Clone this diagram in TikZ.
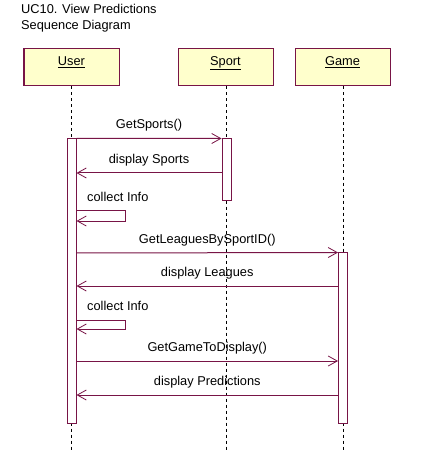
\documentclass[tikz,border=0pt]{standalone}
\usepackage{fontspec}
\setmainfont{Liberation Sans}
\usepackage{tikz}
\usetikzlibrary{arrows.meta}
\definecolor{roseline}{RGB}{120,20,70}
\definecolor{rosefill}{RGB}{255,255,204}
\tikzset{
  objbox/.style={draw=roseline, fill=rosefill, line width=1bp, minimum width=95bp, minimum height=37bp, inner sep=0pt, text height=9bp, text depth=13bp},
  act/.style={draw=roseline, fill=white, line width=1bp, minimum width=9bp, inner sep=0pt},
  life/.style={black, line width=0.8bp, dash pattern=on 3bp off 3bp},
  msg/.style={roseline, line width=1bp, -{Straight Barb[length=9bp,width=10bp,line width=0.8bp]}},
  lbl/.style={inner sep=0pt, text height=9bp, text depth=3bp, black}
}
\begin{document}
\begin{tikzpicture}[x=1bp,y=-1bp]
\tikzstyle{every node}+=[font=\fontsize{12.8bp}{15bp}\selectfont]
\useasboundingbox (0,0) rectangle (420,463);
\fill[white] (0,0) rectangle (420,463);
\node[anchor=base west, inner sep=0pt] (title1) at (21,14) {UC10. View Predictions};
\node[anchor=base west, inner sep=0pt] (title2) at (21,30) {Sequence Diagram};
\node[objbox] (user) at (71.5,67.5) {\underline{User}};
\node[objbox] (sport) at (225.5,67.5) {\underline{Sport}};
\node[objbox] (game) at (342.5,67.5) {\underline{Game}};
\coordinate (uend) at (71.5,450);
\coordinate (send) at (226.5,450);
\coordinate (gend) at (343,450);
\draw[life] (user) -- (uend);
\draw[life] (sport.south -| send) -- (send);
\draw[life] (game.south -| gend) -- (gend);
\node[act, minimum height=284bp] (uact) at (71.5,281) {};
\node[act, minimum height=62bp] (sact) at (226.5,170) {};
\node[act, minimum height=170bp] (gact) at (343,338) {};
\coordinate (y2) at (0,173);
\coordinate (y3) at (0,211);
\coordinate (y3e) at (0,221);
\coordinate (y4) at (0,253);
\coordinate (y5) at (0,286);
\coordinate (y6) at (0,320);
\coordinate (y6e) at (0,329);
\coordinate (y7) at (0,361);
\coordinate (y8) at (0,395);
\draw[msg] (uact.north east) -- node[lbl, above=6bp] {GetSports()} (sact.north west);
\draw[msg] (sact.west |- y2) -- node[lbl, above=6bp] {display Sports} (uact.east |- y2);
\draw[msg] (uact.east |- y3) -- ++(49,0) |- (uact.east |- y3e);
\node[lbl, anchor=base west] (collect1) at (87,202) {collect Info};
\draw[msg] (uact.east |- y4) -- node[lbl, above=6bp] {GetLeaguesBySportID()} (gact.north west);
\draw[msg] (gact.west |- y5) -- node[lbl, above=6bp] {display Leagues} (uact.east |- y5);
\draw[msg] (uact.east |- y6) -- ++(49,0) |- (uact.east |- y6e);
\node[lbl, anchor=base west] (collect2) at (87,310) {collect Info};
\draw[msg] (uact.east |- y7) -- node[lbl, above=6bp] {GetGameToDisplay()} (gact.west |- y7);
\draw[msg] (gact.west |- y8) -- node[lbl, above=6bp] {display Predictions} (uact.east |- y8);
\end{tikzpicture}
\end{document}
